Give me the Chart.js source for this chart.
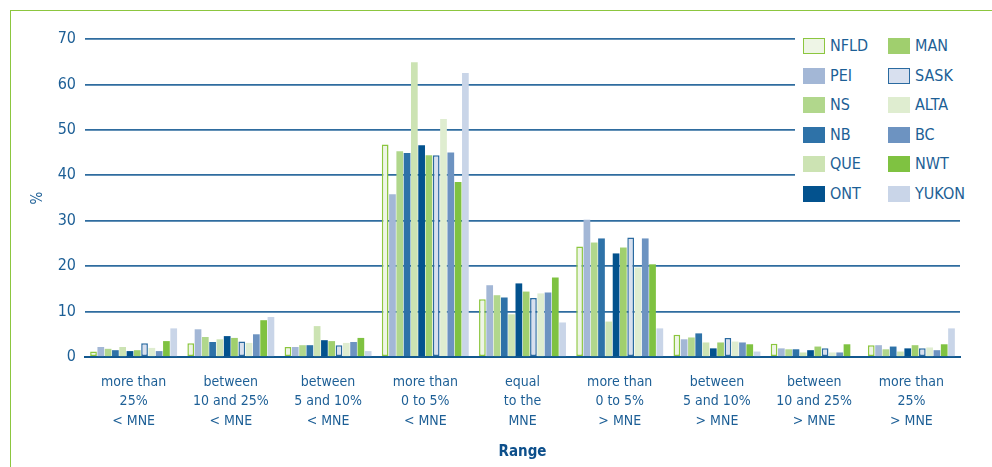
<!DOCTYPE html>
<html>
<head>
<meta charset="utf-8">
<script src="https://cdn.jsdelivr.net/npm/chart.js@4.4.0/dist/chart.umd.min.js"></script>
<style>
  body { margin: 0; background: #fff; }
  #wrap { position: relative; width: 992px; height: 467px; overflow: hidden; }
  #frame { position: absolute; left: 10px; top: 10px; width: 990px; height: 470px;
           border-left: 1.5px solid #8cc63f; border-top: 1.5px solid #8cc63f; pointer-events: none; }
  #legend { position: absolute; left: 795px; top: 28px; width: 180px; height: 186px; background: #fff; }
  .item { position: absolute; height: 18px; font-family: 'DejaVu Sans Condensed', 'Liberation Sans Narrow', 'Open Sans', sans-serif;
          font-size: 16px; color: #1d5f96; line-height: 18px; white-space: nowrap; }
  .box { position: absolute; left: 0; top: 1px; width: 22px; height: 16px; box-sizing: border-box; }
  .item span { position: absolute; left: 27px; top: 0; }
</style>
</head>
<body>
<div id="wrap">
  <canvas id="chart"></canvas>
  <div id="legend"></div>
  <div id="frame"></div>
</div>
<script>
var ranges = [
    ["more than", "25%", "< MNE"],
    ["between", "10 and 25%", "< MNE"],
    ["between", "5 and 10%", "< MNE"],
    ["more than", "0 to 5%", "< MNE"],
    ["equal", "to the", "MNE"],
    ["more than", "0 to 5%", "> MNE"],
    ["between", "5 and 10%", "> MNE"],
    ["between", "10 and 25%", "> MNE"],
    ["more than", "25%", "> MNE"]
];
var provinces = ["NFLD", "PEI", "NS", "NB", "QUE", "ONT", "MAN", "SASK", "ALTA", "BC", "NWT", "YUKON"];
var yTicks = [0, 10, 20, 30, 40, 50, 60, 70];

var NFLD  = [1.2, 3.0, 2.2, 46.8, 12.7, 24.3, 4.9, 2.9, 2.6];
var PEI   = [2.2, 6.1, 2.2, 35.8, 15.8, 30.2, 3.9, 1.9, 2.6];
var NS    = [1.8, 4.4, 2.6, 45.3, 13.6, 25.2, 4.3, 1.7, 1.7];
var NB    = [1.5, 3.3, 2.6, 44.9, 13.1, 26.1, 5.2, 1.7, 2.3];
var QUE   = [2.2, 3.9, 6.8, 64.9, 9.4, 7.8, 3.2, 1.0, 1.2];
var ONT   = [1.3, 4.6, 3.7, 46.6, 16.2, 22.8, 1.9, 1.5, 1.9];
var MAN   = [1.5, 4.2, 3.5, 44.4, 14.4, 24.1, 3.2, 2.3, 2.6];
var SASK  = [3.0, 3.4, 2.6, 44.4, 13.0, 26.3, 4.2, 1.9, 1.9];
var ALTA  = [2.0, 3.1, 3.1, 52.4, 14.0, 19.7, 3.4, 1.0, 2.1];
var BC    = [1.3, 5.0, 3.3, 45.0, 14.2, 26.1, 3.2, 1.0, 1.5];
var NWT   = [3.5, 8.1, 4.2, 38.5, 17.5, 20.4, 2.8, 2.8, 2.8];
var YUKON = [6.3, 8.8, 1.3, 62.5, 7.6, 6.3, 1.2, 0, 6.3];

var values = [NFLD, PEI, NS, NB, QUE, ONT, MAN, SASK, ALTA, BC, NWT, YUKON];
var fills = ["#eef5e6", "#a3b7d6", "#b1d78c", "#2e72a8", "#cce3b3", "#03528e",
             "#a0cf6e", "#d8e0ef", "#dfedd0", "#6d93c1", "#7fc241", "#c9d5e8"];
var borders = ["#8cc63f", null, null, null, null, null, null, "#2a6aa0", null, null, null, null];

var textColor = "#1d5f96";
var fontName = "'DejaVu Sans Condensed', 'Liberation Sans Narrow', 'Open Sans', sans-serif";

var datasets = [];
for (var i = 0; i < provinces.length; i++) {
    datasets.push({
        label: provinces[i],
        data: values[i],
        backgroundColor: fills[i],
        borderColor: borders[i] || fills[i],
        borderWidth: borders[i] ? 1.5 : 0,
        borderSkipped: false,
        barPercentage: 0.92,
        categoryPercentage: 0.9
    });
}

// legend, two columns filled top to bottom
var legend = document.getElementById('legend');
provinces.forEach(function (p, i) {
    var col = Math.floor(i / 6), row = i % 6;
    var item = document.createElement('div');
    item.className = 'item';
    item.style.left = (8 + col * 85) + 'px';
    item.style.top = (9 + row * 29.5) + 'px';
    var box = document.createElement('div');
    box.className = 'box';
    box.style.background = fills[i];
    if (borders[i]) box.style.border = '1.5px solid ' + borders[i];
    var txt = document.createElement('span');
    txt.textContent = p;
    item.appendChild(box);
    item.appendChild(txt);
    legend.appendChild(item);
});

var ctx = document.getElementById('chart');
var chart = new Chart(ctx, {
    type: 'bar',
    data: { labels: ranges, datasets: datasets },
    options: {
        responsive: true,
        maintainAspectRatio: false,
        animation: false,
        layout: { padding: { top: 39, right: 32, bottom: 0, left: 0 } },
        plugins: { legend: { display: false }, tooltip: { enabled: false } },
        scales: {
            x: {
                grid: { display: false },
                border: { display: true, color: '#12588f', width: 2 },
                ticks: {
                    color: textColor,
                    font: { family: fontName, size: 14, lineHeight: 1.41 },
                    padding: 7,
                    maxRotation: 0,
                    autoSkip: false
                },
                title: {
                    display: true,
                    text: 'Range',
                    color: '#0d4f8b',
                    font: { family: fontName, size: 15, weight: 'bold' },
                    padding: { top: 0, bottom: 6 }
                },
                afterFit: function (scale) { scale.height = 110; }
            },
            y: {
                min: 0,
                max: 70,
                afterBuildTicks: function (scale) {
                    scale.ticks = yTicks.map(function (v) { return { value: v }; });
                },
                grid: {
                    color: function (c) { return c.tick.value === 0 ? 'rgba(0,0,0,0)' : '#2f6c9f'; },
                    lineWidth: 1.8,
                    drawTicks: false
                },
                border: { display: false },
                ticks: {
                    color: textColor,
                    font: { family: fontName, size: 16 },
                    padding: 9
                },
                title: {
                    display: true,
                    text: '%',
                    color: textColor,
                    font: { family: fontName, size: 15 },
                    padding: { top: 29, bottom: 0 }
                },
                afterFit: function (scale) { scale.width = 85; }
            }
        }
    }
});
</script>
</body>
</html>
